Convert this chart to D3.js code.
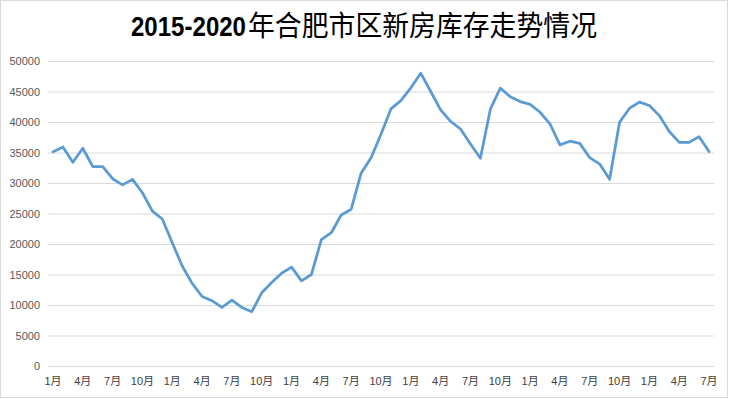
<!DOCTYPE html>
<meta charset="utf-8">
<script src="https://d3js.org/d3.v7.min.js"></script>
<style>
  body { margin: 0; background: #fff; }
</style>
<body>
<script>

// DATA

var categories = [
  "2015-1","2015-2","2015-3","2015-4","2015-5","2015-6","2015-7","2015-8","2015-9","2015-10","2015-11","2015-12",
  "2016-1","2016-2","2016-3","2016-4","2016-5","2016-6","2016-7","2016-8","2016-9","2016-10","2016-11","2016-12",
  "2017-1","2017-2","2017-3","2017-4","2017-5","2017-6","2017-7","2017-8","2017-9","2017-10","2017-11","2017-12",
  "2018-1","2018-2","2018-3","2018-4","2018-5","2018-6","2018-7","2018-8","2018-9","2018-10","2018-11","2018-12",
  "2019-1","2019-2","2019-3","2019-4","2019-5","2019-6","2019-7","2019-8","2019-9","2019-10","2019-11","2019-12",
  "2020-1","2020-2","2020-3","2020-4","2020-5","2020-6","2020-7"
];

var inventory = [
  35100, 35900, 33400, 35700, 32700, 32700, 30700, 29700, 30600, 28400, 25400, 24100,
  20200, 16400, 13550, 11400, 10700, 9600, 10800, 9600, 8900, 12000, 13700, 15200,
  16200, 13950, 15000, 20700, 21850, 24750, 25700, 31600, 34150, 38000, 42150, 43500,
  45600, 48000, 45000, 42000, 40100, 38850, 36400, 34050, 42100, 45550, 44150, 43350,
  42900, 41600, 39700, 36250, 36850, 36500, 34150, 33100, 30600, 39950, 42250, 43250,
  42700, 41050, 38450, 36650, 36650, 37600, 35150
];

var yTicks = [0, 5000, 10000, 15000, 20000, 25000, 30000, 35000, 40000, 45000, 50000];

var titleYears = "2015-2020";
var titleText = "年合肥市区新房库存走势情况";

// SETUP

var width = 729;
var height = 399;

var margin = { top: 61, left: 48, right: 15, bottom: 33 };

var svg = d3.select("body")
  .append("svg")
  .attr("width", width)
  .attr("height", height);

// outer border
svg.append("rect")
  .attr("x", 0.5)
  .attr("y", 0.5)
  .attr("width", width - 2)
  .attr("height", height - 2)
  .attr("fill", "#fff")
  .attr("stroke", "#d9d9d9");

// SCALES

var xScale = d3.scaleBand()
  .domain(categories)
  .range([margin.left, width - margin.right]);

var yScale = d3.scaleLinear()
  .domain([0, 50000])
  .range([height - margin.bottom, margin.top]);

// GRIDLINES + Y AXIS

var yAxis = svg.append("g")
  .attr("transform", `translate(${margin.left}, 0)`)
  .call(d3.axisLeft(yScale)
    .tickValues(yTicks)
    .tickSize(-(width - margin.right - margin.left))
    .tickPadding(8)
    .tickFormat(d3.format("d")));

yAxis.select(".domain").remove();
yAxis.selectAll(".tick line")
  .attr("stroke", "#d9d9d9")
  .attr("stroke-width", 1);
yAxis.selectAll(".tick text")
  .attr("fill", "#595959")
  .style("font-size", "11px")
  .style("font-family", "'Liberation Sans', Arial, sans-serif");

// X AXIS

var xAxis = svg.append("g")
  .attr("transform", `translate(0, ${height - margin.bottom})`)
  .call(d3.axisBottom(xScale)
    .tickValues(categories.filter(function (d, i) { return i % 3 === 0; }))
    .tickSize(0)
    .tickPadding(11)
    .tickFormat(function (d) { return d.split("-")[1] + "月"; }));

xAxis.select(".domain").remove();
xAxis.selectAll(".tick text")
  .attr("fill", "#404040")
  .style("font-size", "11px")
  .style("font-family", "'Liberation Sans', 'Noto Sans CJK SC', sans-serif");

// LINE

var line = d3.line()
  .x(function (d, i) { return xScale(categories[i]) + xScale.bandwidth() / 2; })
  .y(function (d) { return yScale(d); });

svg.append("path")
  .datum(inventory)
  .attr("fill", "none")
  .attr("stroke", "#5b9bd5")
  .attr("stroke-width", 2.75)
  .attr("stroke-linejoin", "round")
  .attr("stroke-linecap", "round")
  .attr("d", line);

// TITLE (one text, two tspans: bold digits + CJK)

var title = svg.append("text")
  .attr("y", 36)
  .attr("fill", "#000");

title.append("tspan")
  .attr("x", 131)
  .attr("textLength", 115)
  .attr("lengthAdjust", "spacingAndGlyphs")
  .style("font-family", "'Liberation Sans', Arial, sans-serif")
  .style("font-weight", "bold")
  .style("font-size", "27px")
  .text(titleYears);

title.append("tspan")
  .attr("x", 248)
  .attr("textLength", 349)
  .attr("lengthAdjust", "spacingAndGlyphs")
  .style("font-family", "'Noto Sans CJK SC', sans-serif")
  .style("font-weight", "normal")
  .style("font-size", "28px")
  .text(titleText);

</script>
</body>
